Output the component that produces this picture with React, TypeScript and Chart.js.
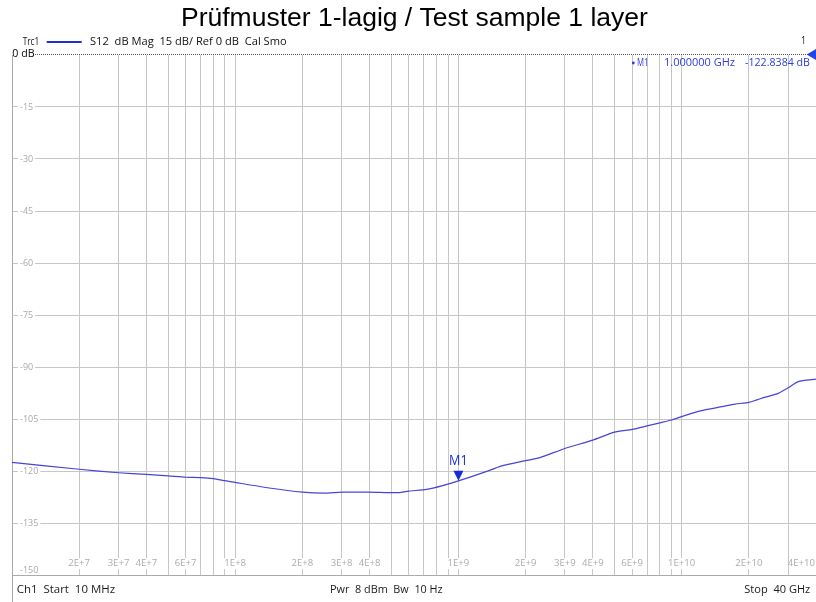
import React, { useEffect, useRef } from 'react';
import { Chart, registerables } from 'chart.js';

Chart.register(...registerables);

// ---- data ----
const freqHz = [
  1e7, 2e7, 3e7, 4e7, 5e7, 6e7, 7e7, 8e7, 9e7, 1e8,
  1.42e8, 2e8, 2.5e8, 3e8, 4e8, 5.4e8, 6e8, 7.2e8, 8.5e8, 1e9,
  1.33e9, 1.55e9, 2e9, 2.3e9, 3e9, 4e9, 5e9, 6e9, 7e9, 8e9,
  9e9, 1e10, 1.23e10, 1.51e10, 1.74e10, 2e10, 2.37e10, 2.71e10, 3e10, 3.33e10,
  4e10,
];
const s12dB = [
  -117.5, -119.5, -120.5, -121.0, -121.4, -121.8, -121.9, -122.2, -122.8, -123.3,
  -124.9, -126.1, -126.4, -126.1, -126.1, -126.25, -125.8, -125.3, -124.2, -122.84,
  -120.2, -118.6, -117.0, -116.2, -113.5, -111.1, -108.8, -108.0, -107.0, -106.1,
  -105.3, -104.3, -102.6, -101.45, -100.7, -100.2, -98.7, -97.6, -96.0, -94.2,
  -93.5,
];

const yTickValues = [0, -15, -30, -45, -60, -75, -90, -105, -120, -135, -150];

const xGridValues = [
  2e7, 3e7, 4e7, 5e7, 6e7, 7e7, 8e7, 9e7,
  1e8, 2e8, 3e8, 4e8, 5e8, 6e8, 7e8, 8e8, 9e8,
  1e9, 2e9, 3e9, 4e9, 5e9, 6e9, 7e9, 8e9, 9e9,
  1e10, 2e10, 3e10,
];
const xLabelValues = [2e7, 3e7, 4e7, 6e7, 1e8, 2e8, 3e8, 4e8, 1e9, 2e9, 3e9, 4e9, 6e9, 1e10, 2e10, 4e10];
const xLabelTexts = ['2E+7', '3E+7', '4E+7', '6E+7', '1E+8', '2E+8', '3E+8', '4E+8', '1E+9', '2E+9', '3E+9', '4E+9', '6E+9', '1E+10', '2E+10', '4E+10'];

const markerFreq = 1e9;
const markerValue = -122.8384;

const titleText = 'Prüfmuster 1-lagig / Test sample 1 layer';

const UI = '"Open Sans", "Noto Sans", sans-serif';
const ARIAL = '"Liberation Sans", Arial, sans-serif';

function fitSize(ctx: CanvasRenderingContext2D, text: string, family: string, target: number) {
  ctx.font = `20px ${family}`;
  const w = ctx.measureText(text).width;
  return (20 * target) / w;
}

// draw text at a fixed font size, horizontally squeezed/stretched to span [left, right]
function drawSpan(
  ctx: CanvasRenderingContext2D,
  text: string,
  left: number,
  right: number,
  y: number,
  size: number,
  color: string,
  family = UI
) {
  ctx.save();
  ctx.font = `${size}px ${family}`;
  ctx.fillStyle = color;
  ctx.textAlign = 'left';
  ctx.textBaseline = 'middle';
  const w = ctx.measureText(text).width;
  ctx.translate(left, y);
  ctx.scale((right - left) / w, 1);
  ctx.fillText(text, 0, 0);
  ctx.restore();
}

const decorPlugin = {
  id: 'decor',
  afterDraw(chart: any) {
    const { ctx, chartArea, scales } = chart;
    const x = scales.x;
    const y = scales.y;
    ctx.save();

    // Title
    const ts = fitSize(ctx, titleText, ARIAL, 467);
    ctx.font = `${ts}px ${ARIAL}`;
    ctx.fillStyle = '#000';
    ctx.textAlign = 'left';
    ctx.textBaseline = 'alphabetic';
    ctx.fillText(titleText, 181, 25.5);

    // Header line
    drawSpan(ctx, 'Trc1', 22.7, 39.3, 42, 10.5, '#111');
    ctx.strokeStyle = '#1f2fd0';
    ctx.lineWidth = 2;
    ctx.beginPath();
    ctx.moveTo(46.7, 42);
    ctx.lineTo(81.7, 42);
    ctx.stroke();
    drawSpan(ctx, 'S12  dB Mag  15 dB/ Ref 0 dB  Cal Smo', 90, 286.7, 42, 10.5, '#111');
    drawSpan(ctx, '1', 801, 806, 41.5, 10.5, '#111');

    // reference line 0 dB (dotted)
    const y0 = y.getPixelForValue(0);
    ctx.strokeStyle = '#555';
    ctx.lineWidth = 1;
    ctx.setLineDash([1, 1]);
    ctx.beginPath();
    ctx.moveTo(35, Math.round(y0) - 0.5);
    ctx.lineTo(chartArea.right, Math.round(y0) - 0.5);
    ctx.stroke();
    ctx.setLineDash([]);
    drawSpan(ctx, '0 dB', 12.3, 34.5, y0 - 1, 10.5, '#000');

    // reference level triangle at right edge
    ctx.fillStyle = '#1f44e8';
    ctx.beginPath();
    ctx.moveTo(806.7, y0 - 0.5);
    ctx.lineTo(chartArea.right + 1, y0 - 6.5);
    ctx.lineTo(chartArea.right + 1, y0 + 5.5);
    ctx.closePath();
    ctx.fill();

    // marker readout
    const blue = '#2a3ddf';
    ctx.fillStyle = blue;
    ctx.beginPath();
    ctx.arc(633.3, 63, 1.4, 0, Math.PI * 2);
    ctx.fill();
    drawSpan(ctx, 'M1', 637, 648.5, 63, 10, blue);
    drawSpan(ctx, '1.000000 GHz', 664, 735, 63, 10, blue);
    drawSpan(ctx, '-122.8384 dB', 745, 810, 63, 10, blue);

    // -150 label
    const yb = y.getPixelForValue(-150);
    ctx.font = `9px ${UI}`;
    ctx.fillStyle = '#a9a9a9';
    ctx.textAlign = 'left';
    ctx.textBaseline = 'middle';
    ctx.fillText('-150', 20, yb - 5);

    // x tick labels inside the plot
    const lblSize = fitSize(ctx, '2E+7', UI, 21.7);
    ctx.font = `${lblSize}px ${UI}`;
    ctx.textBaseline = 'middle';
    ctx.textAlign = 'left';
    const ly = yb - 11.3;
    xLabelValues.forEach((v, i) => {
      const t = xLabelTexts[i];
      const w = ctx.measureText(t).width;
      const cx = x.getPixelForValue(v);
      let left = cx - w / 2;
      let shifted = false;
      if (left + w > chartArea.right - 1) {
        left = chartArea.right - 1 - w;
        shifted = true;
      }
      if (!shifted) {
        ctx.fillStyle = '#fff';
        ctx.fillRect(left - 1.5, ly - 5.5, w + 3, 11);
      }
      ctx.fillStyle = '#acacac';
      ctx.fillText(t, left, ly);
    });

    // marker M1 on trace
    const mx = x.getPixelForValue(markerFreq);
    const my = y.getPixelForValue(markerValue);
    ctx.fillStyle = '#1a2adc';
    ctx.beginPath();
    ctx.moveTo(mx, my);
    ctx.lineTo(mx - 5, my - 10);
    ctx.lineTo(mx + 5, my - 10);
    ctx.closePath();
    ctx.fill();
    drawSpan(ctx, 'M1', mx - 9.3, mx + 9.3, my - 19.5, 14.5, '#1a2adc');

    // bottom status line
    ctx.strokeStyle = '#aaaaaa';
    ctx.lineWidth = 1;
    ctx.beginPath();
    ctx.moveTo(12.5, yb);
    ctx.lineTo(12.5, 602);
    ctx.stroke();
    drawSpan(ctx, 'Ch1  Start  10 MHz', 16.7, 115, 590, 10.5, '#1a1a1a');
    drawSpan(ctx, 'Pwr  8 dBm  Bw  10 Hz', 330, 442.7, 590, 10.5, '#1a1a1a');
    drawSpan(ctx, 'Stop  40 GHz', 744.3, 810.3, 590, 10.5, '#1a1a1a');

    ctx.restore();
  },
};

export default function App() {
  const canvasRef = useRef<HTMLCanvasElement | null>(null);

  useEffect(() => {
    const canvas = canvasRef.current;
    if (!canvas) return;
    const chart = new Chart(canvas, {
      type: 'line',
      data: {
        datasets: [
          {
            label: 'S12',
            data: freqHz.map((f, i) => ({ x: f, y: s12dB[i] })),
            borderColor: '#4545d8',
            borderWidth: 1.2,
            pointRadius: 0,
            tension: 0.2,
            fill: false,
          },
        ],
      },
      options: {
        responsive: false,
        animation: false,
        devicePixelRatio: 1,
        layout: { padding: { left: 12, top: 55, right: -1, bottom: 27 } },
        plugins: {
          legend: { display: false },
          title: { display: false },
          tooltip: { enabled: false },
        },
        scales: {
          x: {
            type: 'logarithmic',
            min: 1e7,
            max: 4e10,
            afterBuildTicks: (s: any) => {
              s.ticks = xGridValues.map((v) => ({ value: v }));
            },
            afterFit: (s: any) => {
              s.height = 0;
            },
            ticks: { display: false },
            grid: { color: '#c6c6c6', lineWidth: 1, drawTicks: false },
            border: { display: true, color: '#aaaaaa', width: 1 },
          },
          y: {
            type: 'linear',
            min: -150,
            max: 0,
            afterBuildTicks: (s: any) => {
              s.ticks = yTickValues.map((v) => ({ value: v }));
            },
            afterFit: (s: any) => {
              s.width = 0;
            },
            ticks: {
              mirror: true,
              padding: 8,
              color: '#a9a9a9',
              font: { family: UI, size: 9 },
              callback: (v: any) => (v === 0 || v === -150 ? '' : String(v)),
              showLabelBackdrop: true,
              backdropColor: (c: any) =>
                c.tick && (c.tick.value === 0 || c.tick.value === -150) ? 'rgba(0,0,0,0)' : '#ffffff',
              backdropPadding: { top: 0, bottom: 0, left: 2, right: 2 },
            },
            grid: {
              color: (c: any) =>
                c.tick && (c.tick.value === 0 || c.tick.value === -150) ? 'rgba(0,0,0,0)' : '#c6c6c6',
              lineWidth: 1,
              drawTicks: false,
            },
            border: { display: true, color: '#aaaaaa', width: 1 },
          },
        },
      },
      plugins: [decorPlugin],
    } as any);
    return () => chart.destroy();
  }, []);

  return (
    <div style={{ position: 'fixed', left: 0, top: 0, width: 816, height: 602, background: '#fff' }}>
      <canvas ref={canvasRef} width={816} height={602} style={{ display: 'block' }} />
    </div>
  );
}
